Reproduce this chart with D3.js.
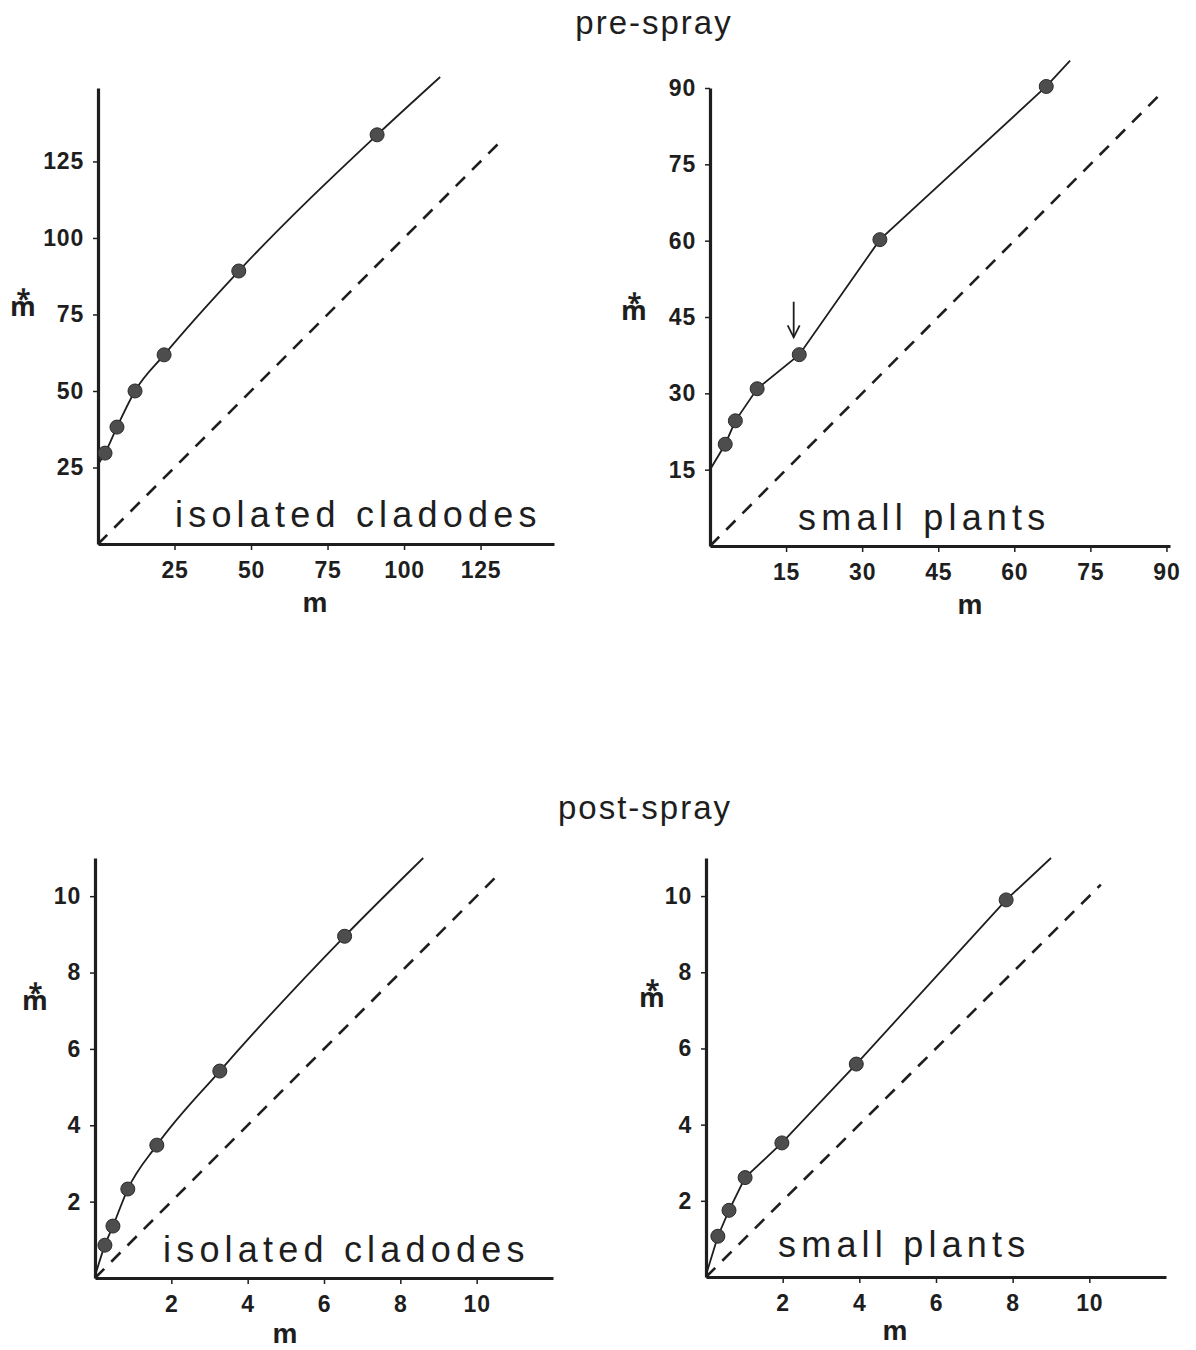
<!DOCTYPE html>
<html>
<head>
<meta charset="utf-8">
<script src="https://cdn.jsdelivr.net/npm/d3@7"></script>
<style>
  body { margin: 0; background: #fff; }
  svg text { fill: #1e1e1e; }
  .tick text { font-family: "Liberation Sans", Arial, sans-serif; font-weight: bold; font-size: 23px; letter-spacing: 0.8px; }
  .tick line, .domain { stroke: #1e1e1e; }
</style>
</head>
<body>
<div id="chart-area"></div>
<script>
// pre-spray, isolated cladodes
var isoPreM     = [2.3, 6.2, 12.1, 21.6, 46, 91.2];
var isoPreMStar = [29.7, 38.2, 50, 61.8, 89.2, 133.7];
var isoPreFit   = [[0, 26], [111.8, 152.6]];
var isoPreTicks = [25, 50, 75, 100, 125];

// pre-spray, small plants
var smallPreM     = [3.0, 5.0, 9.3, 17.6, 33.5, 66.3];
var smallPreMStar = [20, 24.6, 30.9, 37.6, 60.2, 90.3];
var smallPreFit   = [[0, 15], [71, 95.4]];
var smallPreTicks = [15, 30, 45, 60, 75, 90];
var smallPreArrow = [16.5, 48, 41];   // m, from m*, to m*

// post-spray, isolated cladodes
var isoPostM     = [0.26, 0.47, 0.86, 1.62, 3.27, 6.54];
var isoPostMStar = [0.86, 1.36, 2.33, 3.48, 5.42, 8.95];
var isoPostFit   = [[0, 0.05], [8.6, 11]];
var isoPostTicks = [2, 4, 6, 8, 10];

// post-spray, small plants
var smallPostM     = [0.31, 0.6, 1.02, 1.98, 3.92, 7.83];
var smallPostMStar = [1.07, 1.75, 2.61, 3.52, 5.59, 9.9];
var smallPostFit   = [[0, 0.05], [9.0, 11]];
var smallPostTicks = [2, 4, 6, 8, 10];

// 1:1 reference line ends
var isoPreDiag = 132, smallPreDiag = 89, isoPostDiag = 10.5, smallPostDiag = 10.3;

var svg = d3.select("#chart-area").append("svg").attr("width", 1196).attr("height", 1350);

svg.append("text").attr("x", 654).attr("y", 34).attr("text-anchor", "middle")
   .attr("font-family", "'Liberation Sans', Arial, sans-serif")
   .attr("font-size", "33px").attr("letter-spacing", "2px").text("pre-spray");
svg.append("text").attr("x", 645).attr("y", 819).attr("text-anchor", "middle")
   .attr("font-family", "'Liberation Sans', Arial, sans-serif")
   .attr("font-size", "33px").attr("letter-spacing", "2px").text("post-spray");

var panels = [
    {m: isoPreM, ms: isoPreMStar, fit: isoPreFit, ticks: isoPreTicks, diag: isoPreDiag,
     xd: 149, yd: 149, ox: 98, oy: 544, xr: 554, yr: 88, curve: d3.curveMonotoneX,
     label: "isolated cladodes", lx: 175, ly: 527, xt: [315, 612], yt: [23, 316]},
    {m: smallPreM, ms: smallPreMStar, fit: smallPreFit, ticks: smallPreTicks, diag: smallPreDiag,
     xd: 90.7, yd: 90, ox: 710, oy: 546, xr: 1170, yr: 88, curve: d3.curveLinear, arrow: smallPreArrow,
     label: "small plants", lx: 798, ly: 530, xt: [970, 614], yt: [634, 320]},
    {m: isoPostM, ms: isoPostMStar, fit: isoPostFit, ticks: isoPostTicks, diag: isoPostDiag,
     xd: 12, yd: 11, ox: 95, oy: 1278, xr: 553, yr: 858, curve: d3.curveMonotoneX,
     label: "isolated cladodes", lx: 163, ly: 1262, xt: [285, 1343], yt: [35, 1010]},
    {m: smallPostM, ms: smallPostMStar, fit: smallPostFit, ticks: smallPostTicks, diag: smallPostDiag,
     xd: 12, yd: 11, ox: 706, oy: 1277, xr: 1166, yr: 858, curve: d3.curveLinear,
     label: "small plants", lx: 778, ly: 1257, xt: [895, 1340], yt: [652, 1007]}
];

panels.forEach(function(p) {
    var x = d3.scaleLinear().domain([0, p.xd]).range([p.ox, p.xr]);
    var y = d3.scaleLinear().domain([0, p.yd]).range([p.oy, p.yr]);
    var g = svg.append("g");

    var xAxis = d3.axisBottom(x).tickValues(p.ticks).tickSize(6).tickPadding(12).tickSizeOuter(0);
    g.append("g").attr("transform", "translate(0," + p.oy + ")").call(xAxis);
    var yAxis = d3.axisLeft(y).tickValues(p.ticks).tickSize(5).tickPadding(9).tickSizeOuter(0);
    g.append("g").attr("transform", "translate(" + p.ox + ",0)").call(yAxis);
    g.selectAll(".domain").attr("stroke-width", 3.2);
    g.selectAll(".tick line").attr("stroke-width", 1.5);

    // 1:1 dashed line
    g.append("line").attr("x1", x(0)).attr("y1", y(0)).attr("x2", x(p.diag)).attr("y2", y(p.diag))
     .attr("stroke", "#1e1e1e").attr("stroke-width", 2.6).attr("stroke-dasharray", "13,10");

    // fitted line through the points
    var pts = [p.fit[0]];
    p.m.forEach(function(v, i) { pts.push([v, p.ms[i]]); });
    pts.push(p.fit[1]);
    var line = d3.line().x(function(d) { return x(d[0]); }).y(function(d) { return y(d[1]); }).curve(p.curve);
    g.append("path").attr("d", line(pts)).attr("fill", "none").attr("stroke", "#1e1e1e").attr("stroke-width", 1.8);

    g.selectAll("circle.pt").data(p.m).enter().append("circle").attr("class", "pt")
     .attr("cx", function(d) { return x(d); }).attr("cy", function(d, i) { return y(p.ms[i]); })
     .attr("r", 7).attr("fill", "#4d4d4d").attr("stroke", "#2a2a2a").attr("stroke-width", 1);

    if (p.arrow) {
        var ax = x(p.arrow[0]), ay1 = y(p.arrow[1]), ay2 = y(p.arrow[2]);
        g.append("line").attr("x1", ax).attr("y1", ay1).attr("x2", ax).attr("y2", ay2)
         .attr("stroke", "#1e1e1e").attr("stroke-width", 1.8);
        g.append("path").attr("d", "M" + (ax - 6) + "," + (ay2 - 12) + "L" + ax + "," + ay2 + "L" + (ax + 6) + "," + (ay2 - 12))
         .attr("fill", "none").attr("stroke", "#1e1e1e").attr("stroke-width", 1.8);
    }

    g.append("text").attr("x", p.lx).attr("y", p.ly)
     .attr("font-family", "'Liberation Sans', Arial, sans-serif")
     .attr("font-size", "36px").attr("letter-spacing", "5.2px").attr("fill", "#262626").text(p.label);

    g.append("text").attr("x", p.xt[0]).attr("y", p.xt[1]).attr("text-anchor", "middle")
     .attr("font-family", "'Liberation Sans', Arial, sans-serif").attr("font-weight", "bold")
     .attr("font-size", "28px").text("m");

    // m with a combining asterisk above (Noto Sans centres the mark)
    g.append("text").attr("x", p.yt[0]).attr("y", p.yt[1]).attr("text-anchor", "middle")
     .attr("font-family", "'Noto Sans', 'DejaVu Sans', sans-serif").attr("font-weight", "bold")
     .attr("font-size", "26px").text("m\u20F0");
});
</script>
</body>
</html>
